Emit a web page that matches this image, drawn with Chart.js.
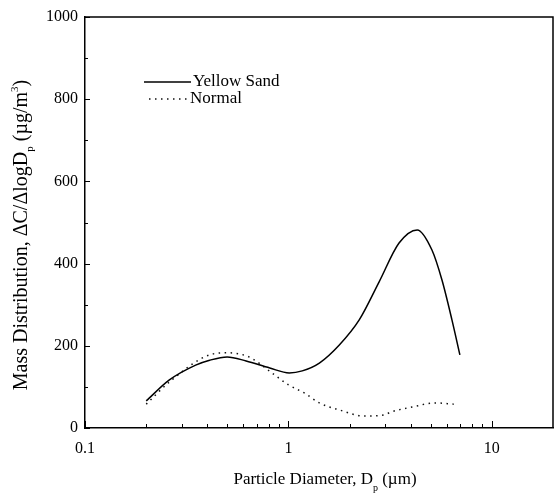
<!DOCTYPE html>
<html lang="en">
<head>
  <meta charset="UTF-8">
  <title>Mass Distribution</title>
  <style>
    html, body {
      margin: 0;
      padding: 0;
      background: #fff;
    }
    #wrap {
      width: 559px;
      height: 495px;
    }
  </style>
  <script src="https://cdn.jsdelivr.net/npm/chart.js"></script>
</head>
<body>
  <div id="wrap"><canvas id="chart" width="559" height="495"></canvas></div>

  <script>
    // Values
    const yellowSandX = [0.2, 0.26, 0.35, 0.41, 0.5, 0.62, 0.81, 1.01, 1.17, 1.42, 1.78, 2.23, 2.79, 3.5, 4.3, 5.08, 5.69, 6.37, 6.97];
    const yellowSandY = [66, 117, 153, 165, 173, 163, 146, 134, 139, 158, 202, 263, 355, 450, 482, 433, 360, 263, 178];
    const normalX = [0.2, 0.26, 0.41, 0.5, 0.64, 0.83, 1.0, 1.2, 1.42, 1.78, 2.36, 2.96, 3.2, 4.05, 5.3, 6.5];
    const normalY = [58, 112, 178, 183, 173, 134, 105, 85, 61, 44, 29, 32, 39, 51, 61, 58];

    const seriesNames = ['Yellow Sand', 'Normal'];

    // Tick marks
    const xMajorTicks = [0.1, 1, 10];
    const xMinorTicks = [0.2, 0.3, 0.4, 0.5, 0.6, 0.7, 0.8, 0.9, 2, 3, 4, 5, 6, 7, 8, 9];
    const yMajorTicks = [0, 200, 400, 600, 800, 1000];
    const yMinorTicks = [100, 300, 500, 700, 900];

    const serif = "'Liberation Serif', 'Times New Roman', serif";

    function toPoints(xs, ys) {
      return xs.map((x, i) => ({ x: x, y: ys[i] }));
    }

    // draws the frame, inward ticks, axis titles with sub/superscripts and the legend
    const decorations = {
      id: 'decorations',
      afterDraw(chart) {
        const ctx = chart.ctx;
        const xs = chart.scales.x;
        const ys = chart.scales.y;
        const area = chart.chartArea;
        ctx.save();
        ctx.strokeStyle = '#000';

        // top and right sides of the box
        ctx.lineWidth = 1.5;
        ctx.beginPath();
        ctx.moveTo(area.left, area.top);
        ctx.lineTo(area.right, area.top);
        ctx.lineTo(area.right, area.bottom);
        ctx.stroke();

        ctx.lineWidth = 1;
        // x ticks point up from the bottom axis
        ctx.beginPath();
        xMajorTicks.forEach(v => {
          const px = Math.round(xs.getPixelForValue(v)) + 0.5;
          ctx.moveTo(px, area.bottom);
          ctx.lineTo(px, area.bottom - 7);
        });
        xMinorTicks.forEach(v => {
          const px = Math.round(xs.getPixelForValue(v)) + 0.5;
          ctx.moveTo(px, area.bottom);
          ctx.lineTo(px, area.bottom - 4);
        });
        // y ticks point right from the left axis
        yMajorTicks.forEach(v => {
          const py = Math.round(ys.getPixelForValue(v)) + 0.5;
          ctx.moveTo(area.left, py);
          ctx.lineTo(area.left + 5, py);
        });
        yMinorTicks.forEach(v => {
          const py = Math.round(ys.getPixelForValue(v)) + 0.5;
          ctx.moveTo(area.left, py);
          ctx.lineTo(area.left + 3, py);
        });
        ctx.stroke();

        ctx.fillStyle = '#000';
        ctx.textBaseline = 'middle';

        // x axis title
        const big = '17px ' + serif;
        const small = '10px ' + serif;
        ctx.font = big;
        const xa = 'Particle Diameter, D';
        const xb = ' (\u00b5m)';
        const wa = ctx.measureText(xa).width;
        const wb = ctx.measureText(xb).width;
        ctx.font = small;
        const wsub = ctx.measureText('p').width;
        let tx = 325 - (wa + wsub + wb) / 2;
        const ty = 480;
        ctx.font = big;
        ctx.textAlign = 'left';
        ctx.fillText(xa, tx, ty);
        tx += wa;
        ctx.font = small;
        ctx.fillText('p', tx, ty + 8);
        tx += wsub;
        ctx.font = big;
        ctx.fillText(xb, tx, ty);

        // y axis title (rotated)
        const ybig = '20px ' + serif;
        const ysmall = '11px ' + serif;
        ctx.font = ybig;
        const ya = 'Mass Distribution, \u0394C/\u0394logD';
        const yb = ' (\u00b5g/m';
        const yc = ')';
        const wya = ctx.measureText(ya).width;
        const wyb = ctx.measureText(yb).width;
        const wyc = ctx.measureText(yc).width;
        ctx.font = ysmall;
        const wyp = ctx.measureText('p').width;
        const wy3 = ctx.measureText('3').width;
        const total = wya + wyp + wyb + wy3 + wyc;
        ctx.translate(22, 235);
        ctx.rotate(-Math.PI / 2);
        let ux = -total / 2;
        ctx.font = ybig;
        ctx.fillText(ya, ux, 0);
        ux += wya;
        ctx.font = ysmall;
        ctx.fillText('p', ux, 8);
        ux += wyp;
        ctx.font = ybig;
        ctx.fillText(yb, ux, 0);
        ux += wyb;
        ctx.font = ysmall;
        ctx.fillText('3', ux, -7);
        ux += wy3;
        ctx.font = ybig;
        ctx.fillText(yc, ux, 0);
        ctx.restore();

        // legend
        ctx.save();
        ctx.font = '17px ' + serif;
        ctx.fillStyle = '#000';
        ctx.textBaseline = 'middle';
        ctx.textAlign = 'left';
        const legendRows = [
          { x1: 144, x2: 191, y: 82, tx: 193 },
          { x1: 149, x2: 189, y: 99, tx: 190 }
        ];
        chart.data.datasets.forEach((ds, i) => {
          const r = legendRows[i];
          ctx.strokeStyle = ds.borderColor;
          ctx.lineWidth = ds.borderWidth;
          ctx.setLineDash(ds.borderDash || []);
          ctx.beginPath();
          ctx.moveTo(r.x1, r.y);
          ctx.lineTo(r.x2, r.y);
          ctx.stroke();
          ctx.fillText(ds.label, r.tx, r.y);
        });
        ctx.restore();
      }
    };

    new Chart(document.getElementById('chart').getContext('2d'), {
      type: 'line',
      data: {
        datasets: [
          {
            label: seriesNames[0],
            data: toPoints(yellowSandX, yellowSandY),
            borderColor: '#000',
            borderWidth: 1.5,
            pointRadius: 0,
            fill: false,
            cubicInterpolationMode: 'monotone'
          },
          {
            label: seriesNames[1],
            data: toPoints(normalX, normalY),
            borderColor: '#111',
            borderWidth: 1.5,
            borderDash: [1.5, 4.5],
            pointRadius: 0,
            fill: false,
            cubicInterpolationMode: 'monotone'
          }
        ]
      },
      options: {
        responsive: false,
        animation: false,
        layout: {
          padding: { left: 0, right: 6, top: 17, bottom: 0 }
        },
        scales: {
          x: {
            type: 'logarithmic',
            min: 0.1,
            max: 20,
            grid: { display: false, drawTicks: false },
            border: { display: true, color: '#000', width: 1.5 },
            ticks: {
              autoSkip: false,
              maxRotation: 0,
              padding: 11,
              color: '#000',
              font: { family: serif, size: 16 },
              callback: (v) => {
                const l = Math.log10(v);
                return Math.abs(l - Math.round(l)) < 1e-6 ? String(Number(v.toPrecision(3))) : '';
              }
            },
            afterFit: (scale) => {
              scale.height = 67;
              scale.paddingRight = 0;
              scale.paddingLeft = 0;
            }
          },
          y: {
            min: 0,
            max: 1000,
            grid: { display: false, drawTicks: false },
            border: { display: true, color: '#000', width: 1.5 },
            ticks: {
              stepSize: 200,
              padding: 7,
              color: '#000',
              font: { family: serif, size: 16 },
              callback: (v) => String(v)
            },
            afterFit: (scale) => { scale.width = 85; }
          }
        },
        plugins: {
          legend: { display: false },
          tooltip: { enabled: false }
        }
      },
      plugins: [decorations]
    });
  </script>
</body>
</html>
